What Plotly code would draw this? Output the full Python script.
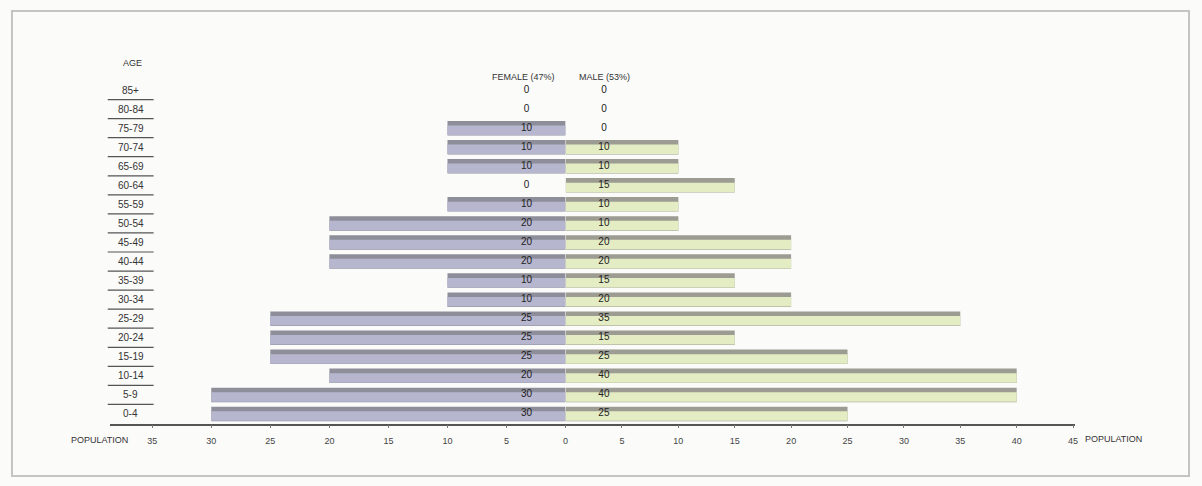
import plotly.graph_objects as go

ages = ["0-4", "5-9", "10-14", "15-19", "20-24", "25-29", "30-34", "35-39", "40-44",
        "45-49", "50-54", "55-59", "60-64", "65-69", "70-74", "75-79", "80-84", "85+"]
female = [30, 30, 20, 25, 25, 25, 10, 10, 20, 20, 20, 10, 0, 10, 10, 10, 0, 0]
male = [25, 40, 40, 25, 15, 35, 20, 15, 20, 20, 10, 10, 15, 10, 10, 0, 0, 0]
female_ticks = [0, 5, 10, 15, 20, 25, 30, 35]
male_ticks = [5, 10, 15, 20, 25, 30, 35, 40, 45]
female_header = "FEMALE (47%)"
male_header = "MALE (53%)"

W, H = 1202, 486
FONT = "Liberation Sans Narrow, Liberation Sans, Arial, sans-serif"
TXT = "#333333"

def px(x):
    return x / W

def py(y):
    return 1 - y / H

yidx = list(range(len(ages)))

fig = go.Figure()

# female bars (shadow + body)
fig.add_trace(go.Bar(x=female, y=yidx, orientation="h", xaxis="x", yaxis="y",
                     marker=dict(color="#8e8e9a", line=dict(width=0)),
                     width=0.76, offset=-0.38, hoverinfo="skip", showlegend=False))
fig.add_trace(go.Bar(x=female, y=yidx, orientation="h", xaxis="x", yaxis="y",
                     marker=dict(color="#b6b6cf", line=dict(width=0)),
                     width=0.5, offset=-0.36, showlegend=False, name="Female"))
# male bars
fig.add_trace(go.Bar(x=male, y=yidx, orientation="h", xaxis="x2", yaxis="y",
                     marker=dict(color="#9c9c92", line=dict(width=0)),
                     width=0.76, offset=-0.38, hoverinfo="skip", showlegend=False))
fig.add_trace(go.Bar(x=male, y=yidx, orientation="h", xaxis="x2", yaxis="y",
                     marker=dict(color="#e3ecc2", line=dict(width=0)),
                     width=0.5, offset=-0.36, showlegend=False, name="Male"))

# value labels
fig.add_trace(go.Scatter(x=[3.3] * len(ages), y=yidx, xaxis="x", yaxis="y", mode="text",
                         text=[str(v) for v in female], textfont=dict(size=10, color="#222", family=FONT),
                         showlegend=False, hoverinfo="skip"))
fig.add_trace(go.Scatter(x=[3.4] * len(ages), y=yidx, xaxis="x2", yaxis="y", mode="text",
                         text=[str(v) for v in male], textfont=dict(size=10, color="#222", family=FONT),
                         showlegend=False, hoverinfo="skip"))

axis_common = dict(showgrid=False, zeroline=False, showline=True, linecolor="#555555", linewidth=1.5,
                   ticks="outside", ticklen=3, tickcolor="#777777", ticklabelstandoff=5,
                   tickfont=dict(size=9, color="#444444", family=FONT), fixedrange=True)

shapes = [
    dict(type="rect", xref="paper", yref="paper", x0=px(12), x1=px(1192), y0=py(476), y1=py(11),
         line=dict(color="#c4c4c4", width=2), fillcolor="rgba(0,0,0,0)", layer="below"),
]
for i in range(len(ages) - 1):
    shapes.append(dict(type="line", xref="paper", yref="y", x0=px(108), x1=px(154),
                       y0=i + 0.5, y1=i + 0.5, line=dict(color="#555555", width=1.2)))

annotations = []
for i, a in enumerate(ages):
    annotations.append(dict(x=px(131), y=i, xref="paper", yref="y", text=a, showarrow=False,
                            font=dict(size=10, color=TXT, family=FONT), xanchor="center", yanchor="middle"))
annotations += [
    dict(x=px(133), y=py(63), xref="paper", yref="paper", text="AGE", showarrow=False,
         font=dict(size=9, color=TXT, family=FONT), xanchor="center", yanchor="middle"),
    dict(x=px(525), y=py(77), xref="paper", yref="paper", text=female_header, showarrow=False,
         font=dict(size=9, color=TXT, family=FONT), xanchor="center", yanchor="middle"),
    dict(x=px(606), y=py(77), xref="paper", yref="paper", text=male_header, showarrow=False,
         font=dict(size=9, color=TXT, family=FONT), xanchor="center", yanchor="middle"),
    dict(x=px(130), y=py(440), xref="paper", yref="paper", text="POPULATION", showarrow=False,
         font=dict(size=9, color=TXT, family=FONT), xanchor="right", yanchor="middle"),
    dict(x=px(1086), y=py(439), xref="paper", yref="paper", text="POPULATION", showarrow=False,
         font=dict(size=9, color=TXT, family=FONT), xanchor="left", yanchor="middle"),
]

fig.update_layout(
    width=W, height=H, margin=dict(l=0, r=0, t=0, b=0),
    paper_bgcolor="#fbfbfa", plot_bgcolor="rgba(0,0,0,0)",
    barmode="overlay", showlegend=False,
    xaxis=dict(domain=[px(110), px(567)], range=[38.6, 0], anchor="y",
               tickvals=female_ticks, ticktext=[str(t) for t in female_ticks], **axis_common),
    xaxis2=dict(domain=[px(567), px(1078)], range=[0, 45.2], anchor="y",
                tickvals=male_ticks, ticktext=[str(t) for t in male_ticks], **axis_common),
    yaxis=dict(domain=[py(423.5), py(80.5)], range=[-0.5, len(ages) - 0.5], anchor="x",
               visible=False, fixedrange=True),
    shapes=shapes, annotations=annotations,
)

fig.write_html("out.html")
